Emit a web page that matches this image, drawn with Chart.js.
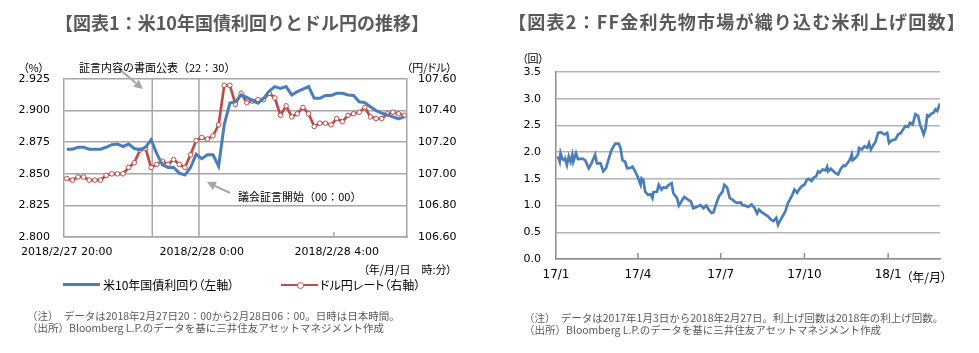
<!DOCTYPE html>
<html lang="ja">
<head>
<meta charset="utf-8">
<script src="https://cdn.jsdelivr.net/npm/chart.js@4.4.1/dist/chart.umd.min.js"></script>
<style>
  body { margin:0; width:979px; height:353px; background:#fff; position:relative; overflow:hidden;
         font-family:'Noto Sans CJK JP', sans-serif; }
  .panel { position:absolute; top:0; height:353px; }
  #p1 { left:0; width:490px; }
  #p2 { left:490px; width:489px; }
  canvas { position:absolute; left:0; top:0; }
  .t { position:absolute; white-space:nowrap; line-height:1; font-size:11px; color:#000; }
  .p { font-feature-settings:"palt"; }
  .title { font-size:18px; font-weight:bold; color:#595959; transform:translateX(-50%); }
  .note { color:#595959; font-size:10.5px; }
  .r { transform:translateX(-100%); }
</style>
</head>
<body>
<div class="panel" id="p1">
  <canvas id="c1" width="490" height="353"></canvas>
  <div class="t title" style="left:242px;top:13px">【図表1：米10年国債利回りとドル円の推移】</div>
  <div class="t p" style="left:23px;top:62px">（%）</div>
  <div class="t" style="left:79px;top:62px">証言内容の書面公表（22：30）</div>
  <div class="t p r" style="left:452px;top:62px">（円/ドル）</div>
  <div class="t" style="left:238px;top:191px">議会証言開始（00：00）</div>
  <div class="t p r" style="left:452px;top:264px">（年/月/日　時:分）</div>
  <div style="position:absolute;left:63px;top:283px;width:37px;height:3px;background:#4a7ebb"></div>
  <div class="t p" style="left:103px;top:279px;font-size:12px">米10年国債利回り（左軸）</div>
  <div style="position:absolute;left:281px;top:283.5px;width:37px;height:2.5px;background:#be4b48"></div>
  <div style="position:absolute;left:297px;top:282px;width:5px;height:5px;border:1px solid #be4b48;border-radius:50%;background:#fff"></div>
  <div class="t p" style="left:320px;top:279px;font-size:12px">ドル円レート（右軸）</div>
  <div class="t note" style="left:27px;top:311px">（注）　データは2018年2月27日20：00から2月28日06：00。日時は日本時間。</div>
  <div class="t note" style="left:27px;top:323px">（出所）Bloomberg L.P.のデータを基に三井住友アセットマネジメント作成</div>
</div>
<div class="panel" id="p2">
  <canvas id="c2" width="489" height="353"></canvas>
  <div class="t title" style="left:247px;top:12px;letter-spacing:1.2px">【図表2：FF金利先物市場が織り込む米利上げ回数】</div>
  <div class="t p" style="left:32px;top:53px">（回）</div>
  <div class="t p r" style="left:457px;top:271px;font-size:12px">（年/月）</div>
  <div class="t note" style="left:34px;top:313px">（注）　データは2017年1月3日から2018年2月27日。利上げ回数は2018年の利上げ回数。</div>
  <div class="t note" style="left:34px;top:325px">（出所）Bloomberg L.P.のデータを基に三井住友アセットマネジメント作成</div>
</div>
<script>
// chart 1: 10-minute data, 2018/2/27 20:00 -> 2018/2/28 06:00
const timeLabels = ['2018/2/27 20:00', '2018/2/28 0:00', '2018/2/28 4:00'];
const timeTickIdx = [0, 24, 48];
const yieldUS10 = [
  2.8695, 2.8695, 2.871, 2.871, 2.8695, 2.8695, 2.8695, 2.871, 2.873, 2.8735,
  2.8716, 2.8735, 2.870, 2.869, 2.871, 2.877, 2.866, 2.857, 2.855, 2.855,
  2.8505, 2.849, 2.855, 2.8655, 2.862, 2.865, 2.865, 2.856, 2.889, 2.906,
  2.907, 2.9124, 2.9105, 2.908, 2.9058, 2.9097, 2.9155, 2.919, 2.9176, 2.919,
  2.9124, 2.915, 2.917, 2.919, 2.9097, 2.9097, 2.912, 2.912, 2.9137, 2.9137,
  2.9124, 2.912, 2.907, 2.9063, 2.903, 2.900, 2.898, 2.8966, 2.895, 2.8934, 2.895
];
const usdJpy = [
  106.97, 106.96, 106.98, 106.98, 106.96, 106.96, 106.96, 106.99, 107.00, 107.00,
  107.00, 107.04, 107.07, 107.15, 107.16, 107.04, 107.06, 107.08, 107.06, 107.09,
  107.06, 107.04, 107.12, 107.21, 107.23, 107.22, 107.24, 107.31, 107.56, 107.56,
  107.44, 107.51, 107.45, 107.46, 107.47, 107.47, 107.51, 107.48, 107.37, 107.43,
  107.36, 107.38, 107.42, 107.38, 107.30, 107.32, 107.32, 107.31, 107.35, 107.33,
  107.37, 107.38, 107.39, 107.42, 107.36, 107.35, 107.35, 107.38, 107.39, 107.38, 107.37
];
const eventIdx = [15.2, 23.5];   // 22:30 written testimony, 0:00 hearing

// chart 2: days counted from 2017/1/1
const monthLabels = ['17/1', '17/4', '17/7', '17/10', '18/1'];
const monthTickDay = [0, 90, 181, 273, 365];
const ffDay = [
  2, 4, 5, 7, 9, 10, 12, 14, 16, 18, 19, 22, 24, 29, 32, 36, 39, 43, 45, 49,
  52, 55, 58, 61, 65, 69, 71, 73, 76, 78, 81, 84, 87, 89, 93, 94, 96, 98, 101, 104,
  106, 107, 111, 113, 116, 118, 121, 124, 127, 129, 133, 135, 139, 141, 145, 148, 151, 155, 159, 162,
  165, 168, 171, 173, 175, 179, 183, 185, 188, 191, 194, 196, 199, 203, 205, 208, 211, 215, 218, 221,
  223, 226, 230, 233, 236, 239, 242, 244, 246, 249, 252, 255, 257, 260, 262, 265, 267, 270, 273, 276,
  278, 281, 283, 286, 288, 290, 293, 296, 298, 299, 302, 305, 307, 310, 313, 316, 318, 321, 323, 325,
  326, 329, 332, 333, 336, 339, 342, 344, 346, 349, 351, 354, 357, 361, 364, 366, 369, 373, 376, 379,
  382, 384, 387, 389, 392, 395, 398, 400, 402, 404, 406, 408, 410, 413, 415, 417, 419, 422
];
const ffHikes = [
  1.92, 1.82, 1.98, 1.87, 1.85, 1.88, 1.76, 1.92, 1.82, 1.95, 1.82, 1.98, 1.87, 1.88, 1.85, 1.70, 1.79, 1.95, 1.79, 1.79,
  1.64, 1.70, 1.88, 2.04, 2.16, 2.16, 2.07, 1.85, 1.82, 1.70, 1.70, 1.73, 1.64, 1.57, 1.39, 1.51, 1.48, 1.26, 1.20, 1.21,
  1.14, 1.25, 1.26, 1.39, 1.30, 1.34, 1.33, 1.39, 1.42, 1.23, 1.14, 1.00, 1.11, 1.16, 1.11, 1.08, 0.95, 0.98, 1.01, 0.95,
  1.00, 0.92, 0.86, 0.87, 0.98, 1.17, 1.26, 1.39, 1.34, 1.14, 1.11, 1.08, 1.05, 1.06, 1.01, 1.00, 0.975, 1.02, 0.96, 0.85,
  0.925, 0.875, 0.83, 0.80, 0.74, 0.71, 0.77, 0.64, 0.71, 0.80, 0.89, 1.05, 1.11, 1.21, 1.30, 1.24, 1.30, 1.36, 1.39, 1.49,
  1.50, 1.46, 1.52, 1.55, 1.64, 1.62, 1.675, 1.66, 1.725, 1.64, 1.69, 1.64, 1.61, 1.58, 1.69, 1.75, 1.74, 1.81, 1.86, 1.96,
  1.85, 1.89, 1.96, 2.08, 2.05, 2.11, 2.08, 2.17, 2.05, 2.14, 2.19, 2.36, 2.375, 2.33, 2.36, 2.17, 2.22, 2.24, 2.33, 2.36,
  2.44, 2.49, 2.475, 2.55, 2.52, 2.71, 2.675, 2.52, 2.43, 2.33, 2.43, 2.69, 2.675, 2.725, 2.74, 2.80, 2.77, 2.91
];

const BLUE = '#4a7ebb';
const RED = '#be4b48';
const GRID = '#a6a6a6';

Chart.defaults.font.family = "'DejaVu Sans', sans-serif";
Chart.defaults.font.size = 11;
Chart.defaults.color = '#000';

// vertical event lines and small inner tick marks on the x axis
const guideLines = {
  id: 'guideLines',
  beforeDatasetsDraw(chart, args, opts) {
    const { ctx, chartArea: a, scales: { x } } = chart;
    ctx.save();
    ctx.strokeStyle = opts.color;
    ctx.lineWidth = 1.5;
    ctx.beginPath();
    (opts.full || []).forEach(v => {
      const px = x.getPixelForValue(v);
      ctx.moveTo(px, a.top); ctx.lineTo(px, a.bottom);
    });
    (opts.ticks || []).forEach(v => {
      const px = x.getPixelForValue(v);
      ctx.moveTo(px, a.bottom); ctx.lineTo(px, a.bottom - opts.tickLen);
    });
    ctx.stroke();
    ctx.restore();
  }
};

const arrows = {
  id: 'arrows',
  afterDatasetsDraw(chart, args, opts) {
    const { ctx, scales: { x, y } } = chart;
    ctx.save();
    ctx.strokeStyle = opts.color;
    ctx.fillStyle = opts.color;
    ctx.lineWidth = 2;
    (opts.items || []).forEach(([x0, y0, x1, y1]) => {
      const ax = x.getPixelForValue(x0), ay = y.getPixelForValue(y0);
      const bx = x.getPixelForValue(x1), by = y.getPixelForValue(y1);
      const ang = Math.atan2(by - ay, bx - ax);
      const len = 9, half = 4.5;
      const cx = bx - len * Math.cos(ang), cy = by - len * Math.sin(ang);
      ctx.beginPath();
      ctx.moveTo(ax, ay); ctx.lineTo(cx, cy);
      ctx.stroke();
      ctx.beginPath();
      ctx.moveTo(bx, by);
      ctx.lineTo(cx + half * Math.sin(ang), cy - half * Math.cos(ang));
      ctx.lineTo(cx - half * Math.sin(ang), cy + half * Math.cos(ang));
      ctx.closePath();
      ctx.fill();
    });
    ctx.restore();
  }
};

new Chart(document.getElementById('c1'), {
  type: 'line',
  data: {
    datasets: [{
      label: '米10年国債利回り（左軸）',
      data: yieldUS10.map((v, i) => ({ x: i, y: v })),
      yAxisID: 'y',
      borderColor: BLUE,
      borderWidth: 3,
      pointRadius: 0
    }, {
      label: 'ドル円レート（右軸）',
      data: usdJpy.map((v, i) => ({ x: i, y: v })),
      yAxisID: 'y2',
      borderColor: RED,
      borderWidth: 2.7,
      pointRadius: 2.3,
      pointBackgroundColor: '#fff',
      pointBorderColor: RED,
      pointBorderWidth: 1
    }]
  },
  options: {
    responsive: false,
    animation: false,
    events: [],
    layout: { padding: { top: 79, left: 0, right: 0, bottom: 0 } },
    plugins: {
      legend: { display: false },
      tooltip: { enabled: false },
      guideLines: { color: GRID, full: eventIdx, ticks: [47.5], tickLen: 5 },
      arrows: { color: '#a6a6a6', items: [[9.3, 2.9329, 13.55, 2.9171], [29.05, 2.8348, 24.9, 2.8435]] }
    },
    scales: {
      x: {
        type: 'linear', min: -0.5, max: 60.5,
        afterBuildTicks: s => { s.ticks = timeTickIdx.map(v => ({ value: v })); },
        afterFit: s => { s.height = 116; },
        ticks: { autoSkip: false, maxRotation: 0, padding: 9, callback: (v, i) => timeLabels[i] },
        grid: { display: false, drawTicks: false },
        border: { color: GRID, width: 1.5 }
      },
      y: {
        position: 'left', min: 2.8, max: 2.925,
        afterFit: s => { s.width = 64; },
        ticks: { stepSize: 0.025, padding: 14, callback: v => v.toFixed(3) },
        grid: { color: GRID, lineWidth: 1.5, drawTicks: false },
        border: { color: GRID, width: 1.5 }
      },
      y2: {
        position: 'right', min: 106.6, max: 107.6,
        afterFit: s => { s.width = 83; },
        ticks: { stepSize: 0.2, padding: 11, callback: v => v.toFixed(2) },
        grid: { display: false, drawTicks: false },
        border: { color: GRID, width: 1.5 }
      }
    }
  },
  plugins: [guideLines, arrows]
});

new Chart(document.getElementById('c2'), {
  type: 'line',
  data: {
    datasets: [{
      label: '利上げ回数',
      data: ffDay.map((d, i) => ({ x: d, y: ffHikes[i] })),
      borderColor: BLUE,
      borderWidth: 2.7,
      pointRadius: 0
    }]
  },
  options: {
    responsive: false,
    animation: false,
    events: [],
    layout: { padding: { top: 72, left: 0, right: 39, bottom: 0 } },
    plugins: {
      legend: { display: false },
      tooltip: { enabled: false },
      guideLines: { color: '#8c8c8c', ticks: monthTickDay.slice(1), tickLen: 6 }
    },
    scales: {
      x: {
        type: 'linear', min: 0, max: 422,
        afterBuildTicks: s => { s.ticks = monthTickDay.map(v => ({ value: v })); },
        afterFit: s => { s.height = 94; },
        ticks: { autoSkip: false, maxRotation: 0, padding: 9, font: { size: 12 }, callback: (v, i) => monthLabels[i] },
        grid: { display: false, drawTicks: false },
        border: { color: '#8c8c8c', width: 1.5 }
      },
      y: {
        min: 0, max: 3.5,
        afterFit: s => { s.width = 66; },
        ticks: { stepSize: 0.5, padding: 15, callback: v => v.toFixed(1) },
        grid: { color: '#b4b4b4', lineWidth: 1.5, drawTicks: false },
        border: { color: '#8c8c8c', width: 1.5 }
      }
    }
  },
  plugins: [guideLines]
});
</script>
</body>
</html>
